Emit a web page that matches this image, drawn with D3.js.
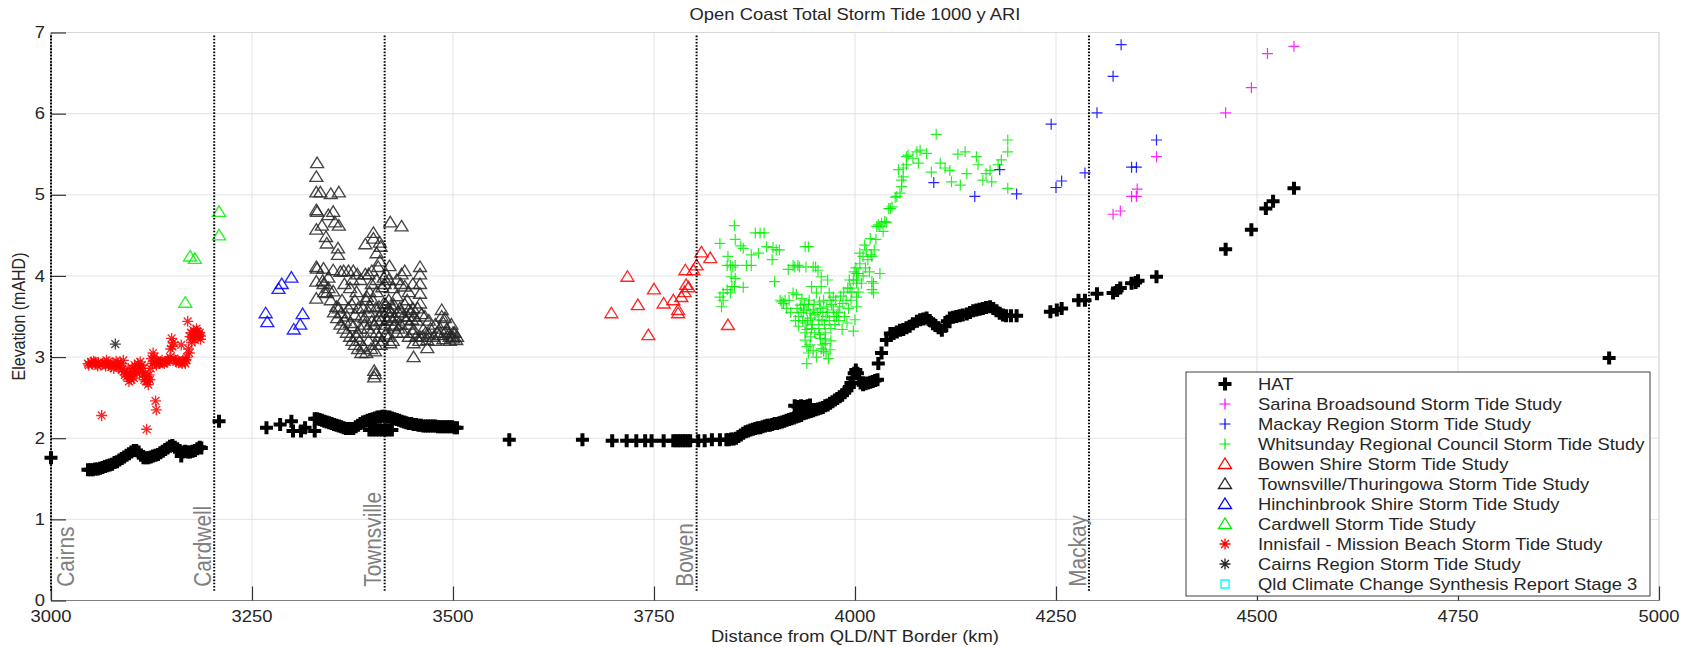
<!DOCTYPE html>
<html><head><meta charset="utf-8">
<script src="https://cdn.jsdelivr.net/npm/d3@7"></script>
<style>html,body{margin:0;padding:0;background:#fff;}svg{display:block;}</style>
</head><body>
<script>
// ---------------- DATA ----------------
const chartTitle = "Open Coast Total Storm Tide 1000 y ARI";
const xLabel = "Distance from QLD/NT Border (km)";
const yLabel = "Elevation (mAHD)";
const xTicks = [3000, 3250, 3500, 3750, 4000, 4250, 4500, 4750, 5000];
const yTicks = [0, 1, 2, 3, 4, 5, 6, 7];

const places = ["Cairns", "Cardwell", "Townsville", "Bowen", "Mackay"];
const placeKm = [3000, 3203, 3415, 3803, 4291];
const placeLabelKm = [3028, 3199, 3411, 3799, 4287];

const hat = [
[3000,1.76],
[3046,1.61],[3049,1.61],[3052,1.61],[3055,1.62],[3058,1.62],[3061,1.63],[3064,1.64],[3067,1.65],[3070,1.66],[3073,1.67],[3076,1.68],[3079,1.70],[3082,1.71],[3085,1.73],[3088,1.75],[3091,1.77],[3094,1.79],[3097,1.81],[3100,1.83],[3103,1.85],[3106,1.85],[3109,1.83],[3112,1.79],[3115,1.76],[3118,1.76],[3121,1.76],[3124,1.77],[3127,1.78],[3130,1.79],[3133,1.80],[3136,1.82],[3139,1.84],[3142,1.86],[3145,1.88],[3148,1.90],[3151,1.91],[3154,1.89],[3157,1.87],[3160,1.85],[3162,1.78],[3164,1.83],[3167,1.84],[3170,1.83],[3173,1.83],[3176,1.84],[3179,1.85],[3182,1.87],[3185,1.89],[3187,1.88],
[3209,2.21],[3268,2.13],[3285,2.17],[3299,2.21],[3301,2.09],[3311,2.09],[3316,2.13],[3328,2.09],
[3328,2.24],[3331,2.24],[3334,2.23],[3337,2.22],[3340,2.21],[3343,2.20],[3346,2.19],[3349,2.18],[3352,2.17],[3355,2.16],[3358,2.15],[3361,2.14],[3364,2.13],[3367,2.12],[3370,2.12],[3373,2.12],[3376,2.12],[3379,2.14],[3382,2.16],[3385,2.18],[3388,2.20],[3391,2.21],[3394,2.22],[3397,2.23],[3400,2.24],[3403,2.25],[3406,2.26],[3409,2.26],[3412,2.27],[3415,2.27],[3418,2.26],[3421,2.26],[3424,2.25],[3427,2.24],[3430,2.23],[3433,2.22],[3436,2.21],[3439,2.20],[3442,2.19],[3445,2.18],[3448,2.18],[3451,2.17],[3454,2.17],[3457,2.16],[3460,2.16],[3463,2.15],[3466,2.15],[3469,2.15],[3472,2.15],[3475,2.15],[3478,2.15],[3481,2.14],[3484,2.14],[3487,2.14],[3490,2.14],[3493,2.14],[3496,2.14],[3499,2.14],[3502,2.13],[3505,2.13],
[3396,2.10],[3400,2.10],[3404,2.10],[3408,2.10],[3412,2.10],[3416,2.10],[3420,2.10],[3424,2.10],
[3570,1.98],[3661,1.98],[3698,1.97],[3716,1.97],[3728,1.97],[3739,1.97],[3747,1.97],[3762,1.97],[3774,1.97],[3777,1.97],[3780,1.97],[3783,1.97],[3786,1.97],[3789,1.97],[3792,1.97],[3795,1.97],[3805,1.97],[3813,1.97],[3822,1.98],[3832,1.98],[3840,1.98],[3843,1.98],[3846,1.99],[3849,1.99],[3852,2.00],[3855,2.02],[3858,2.04],[3861,2.06],[3864,2.08],[3867,2.09],[3870,2.10],[3873,2.11],[3876,2.12],[3879,2.13],[3882,2.13],[3885,2.14],[3888,2.15],[3891,2.16],[3894,2.16],[3897,2.17],[3900,2.18],[3903,2.18],[3906,2.19],[3909,2.20],[3912,2.21],[3915,2.22],[3918,2.23],[3921,2.24],[3924,2.25],[3927,2.26],[3930,2.27],[3933,2.28],[3936,2.30],[3939,2.31],[3942,2.32],[3945,2.33],[3948,2.34],[3951,2.35],[3954,2.36],[3957,2.37],[3960,2.38],[3963,2.40],[3966,2.41],[3969,2.43],[3972,2.45],[3975,2.47],[3978,2.49],[3981,2.51],[3984,2.53],[3987,2.56],[3990,2.59],[3993,2.63],[3995,2.68],[3997,2.74],[3999,2.80],[4001,2.84],[4003,2.80],[4005,2.74],[4007,2.68],[4010,2.66],[4013,2.67],[4016,2.68],[4019,2.69],[4022,2.70],[4025,2.71],[4028,2.72],
[3925,2.40],[3929,2.39],[3933,2.40],[3937,2.39],[3941,2.40],[3944,2.41],
[4029,2.92],[4033,3.05],[4039,3.21],[4044,3.29],[4048,3.29],[4052,3.31],[4056,3.33],[4060,3.34],[4064,3.36],[4068,3.38],[4072,3.41],[4077,3.44],[4081,3.46],[4085,3.47],[4089,3.48],[4093,3.45],[4097,3.41],[4100,3.39],[4104,3.36],[4108,3.33],[4112,3.38],[4115,3.44],[4118,3.48],[4122,3.49],[4126,3.50],[4130,3.51],[4134,3.52],[4139,3.53],[4143,3.55],[4147,3.57],[4151,3.58],[4155,3.59],[4159,3.60],[4163,3.61],[4168,3.62],[4172,3.60],[4176,3.57],[4180,3.54],[4184,3.52],[4188,3.51],[4194,3.51],[4201,3.51],
[4243,3.56],[4251,3.58],[4257,3.60],[4278,3.70],[4286,3.70],[4301,3.78],[4321,3.79],[4326,3.82],[4330,3.85],[4344,3.91],[4349,3.92],[4352,3.94],[4375,3.99],[4461,4.33],[4493,4.57],[4511,4.83],[4520,4.92],[4546,5.08],[4938,2.99]
];

const sarina = [[4321,4.76],[4330,4.80],[4344,4.98],[4350,4.98],[4351,5.07],[4375,5.47],[4461,6.01],[4493,6.32],[4513,6.74],[4546,6.83]];

const mackay = [[4098,5.15],[4149,4.98],[4180,5.31],[4201,5.01],[4244,5.87],[4250,5.09],[4257,5.17],[4286,5.27],[4301,6.01],[4321,6.46],[4331,6.85],[4375,5.675],[4344,5.34],[4350,5.34]];

const whitsunday = [
[3832,4.40],[3850,4.62],[3851,4.45],[3858,4.37],[3861,4.34],[3871,4.26],[3876,4.53],[3882,4.53],[3887,4.53],[3880,4.28],[3890,4.36],[3898,4.35],[3902,4.32],[3906,4.32],[3897,4.20],[3938,4.36],[3942,4.36],
[3842,4.24],[3845,4.13],[3841,4.13],[3851,4.13],[3865,4.13],[3871,4.13],[3848,4.11],[3846,3.99],[3851,3.97],[3850,3.87],[3847,3.87],[3841,3.83],[3836,3.79],[3845,3.79],[3832,3.74],[3836,3.70],[3834,3.62],[3861,3.86],[3900,3.93],
[3925,4.11],[3917,4.08],[3929,4.13],[3923,4.13],[3931,4.11],[3939,4.11],[3948,4.11],[3951,4.11],[3954,4.07],[3958,3.99],[3966,3.95],[3958,3.87],[3968,3.79],
[3907,3.70],[3909,3.68],[3911,3.66],[3913,3.70],[3927,3.77],[3923,3.79],[3932,3.64],[3936,3.58],[3940,3.58],[3944,3.54],[3948,3.58],[3946,3.87],[3952,3.79],
[3938,3.42],[3940,3.34],[3938,3.21],[3940,3.13],[3940,2.92],[3957,3.23],[3963,3.17],[3969,3.09],[3961,3.07],[3967,2.98],[3965,3.62],[3969,3.70],[3973,3.58],[3973,3.74],[3977,3.50],[3981,3.62],[3985,3.66],[3987,3.50],[3990,3.42],[3984,3.34],[3998,3.32],[4000,3.46],[4002,3.74],[4002,3.91],[4002,4.03],[4006,4.15],[4010,4.24],[4014,4.32],[4019,4.46],[4021,4.24],[4023,3.91],[4023,3.79],[4031,4.03],[4029,4.63],[4037,4.67],[4042,4.83],[4050,4.97],[4054,5.31],
[3930,3.50],[3935,3.45],[3945,3.48],[3950,3.52],[3955,3.46],[3960,3.55],[3962,3.40],[3975,3.40],[3980,3.45],[3992,3.60],[3995,3.70],[3994,3.85],[3998,3.95],[3928,3.60],[3934,3.72],[3942,3.65],[3956,3.68],[3964,3.50],[3970,3.35],[3945,3.25],[3950,3.30],[3960,3.15],[3942,3.05],
[3915,3.60],[3918,3.70],[3920,3.55],[3926,3.45],[3930,3.38],[3933,3.55],[3937,3.65],[3941,3.45],[3943,3.70],[3947,3.40],[3949,3.65],[3953,3.55],[3955,3.35],[3957,3.60],[3959,3.45],[3961,3.70],[3963,3.30],[3966,3.55],[3968,3.45],[3971,3.65],[3974,3.50],[3976,3.70],[3979,3.55],[3982,3.75],[3986,3.80],[3989,3.70],[3991,3.85],[3993,3.95],[3996,3.80],[3999,4.05],[4001,4.10],[3944,3.15],[3948,3.08],[3952,3.00],[3958,3.10],[3964,3.05],[3938,3.30],[3946,3.35],[3956,3.28],[3963,3.22],[3970,3.20],
[4004,4.03],[4006,4.28],[4012,4.38],[4020,4.26],[4024,4.32],[4027,4.61],[4033,4.65],[4039,4.66],[4046,4.85],[4056,5.02],[4058,5.10],[4058,5.18],[4060,5.33],[4064,5.37],[4066,5.49],[4072,5.45],[4077,5.53],[4021,3.93],[4021,3.83],[4002,3.95],[4008,3.91],[4002,3.62],
[4004,3.80],[4010,4.00],[4013,4.10],[4016,4.20],[4018,4.05],[4026,4.45],[4035,4.55],
[4031,4.61],[4044,4.83],[4052,4.98],[4060,5.22],[4064,5.47],[4081,5.55],[4089,5.51],[4079,5.39],[4095,5.28],[4101,5.745],[4106,5.39],[4112,5.33],[4118,5.30],[4120,5.16],[4131,5.12],[4128,5.50],[4137,5.53],[4139,5.26],[4151,5.47],[4153,5.37],[4159,5.18],[4163,5.26],[4170,5.16],[4168,5.30],[4178,5.37],[4182,5.43],[4190,5.675],[4190,5.53],[4190,5.08]
];

const bowen = [[3697,3.54],[3717,3.99],[3730,3.64],[3743,3.27],[3750,3.835],[3762,3.66],[3774,3.70],[3780,3.54],[3780,3.58],[3784,3.74],[3788,3.80],[3790,3.89],[3793,3.86],[3789,4.07],[3799,4.07],[3803,4.13],[3809,4.29],[3820,4.22],[3842,3.395]];

const townsville = [
[3331,5.39],[3330,5.22],[3330,5.03],[3335,5.03],[3348,5.01],[3358,5.03],[3330,4.81],[3331,4.79],[3351,4.79],[3345,4.75],[3337,4.62],[3353,4.66],[3358,4.62],[3330,4.57],[3342,4.48],[3343,4.40],[3357,4.34],[3357,4.26],
[3330,4.11],[3331,4.09],[3339,4.09],[3351,4.07],[3339,3.90],[3338,3.94],[3330,3.93],[3343,3.79],[3351,3.81],[3372,3.85],[3330,3.72],[3364,4.06],[3370,4.06],[3376,4.06],[3381,4.02],[3391,4.02],[3399,4.06],[3407,4.11],[3417,4.02],[3421,4.12],[3436,4.02],[3440,4.06],[3459,4.11],[3459,4.02],[3459,3.90],[3459,3.78],[3459,3.66],[3461,3.53],
[3401,4.53],[3401,4.46],[3391,4.39],[3409,4.41],[3405,4.28],[3409,4.18],[3422,4.66],[3436,4.61],
[3361,3.54],[3368,3.50],[3376,3.38],[3381,3.30],[3388,3.13],[3403,3.07],[3393,3.74],[3397,3.62],[3399,3.44],[3405,3.30],[3414,3.66],[3418,3.56],[3422,3.50],[3426,3.38],[3430,3.30],[3422,3.17],[3412,3.86],[3414,3.98],[3399,3.90],
[3402,2.83],[3402,2.75],[3403,2.79],
[3440,3.87],[3443,3.70],[3445,3.58],[3449,3.46],[3451,3.34],[3451,3.17],[3451,3.00],[3463,3.34],[3468,3.21],[3468,3.11],[3476,3.25],[3486,3.58],[3486,3.50],[3488,3.42],[3492,3.34],[3500,3.23],[3504,3.21],[3483,3.27],[3459,3.25],
[3358,3.60],[3365,3.45],[3372,3.42],[3378,3.52],[3385,3.35],[3390,3.48],[3395,3.55],[3408,3.62],[3410,3.45],[3415,3.40],[3420,3.70],[3425,3.60],[3428,3.48],[3432,3.55],[3412,3.20],[3416,3.28],[3395,3.20],[3435,3.40],[3438,3.30],[3445,3.25],[3455,3.45],[3470,3.28],[3480,3.30],[3495,3.28],[3502,3.30],[3498,3.40],[3490,3.48],[3345,3.98],[3348,3.70],[3355,3.62],[3362,3.70],[3380,3.80],[3385,3.95],[3405,3.80],[3425,3.85],[3430,3.95],[3445,3.80],[3450,3.60],[3410,4.36],[3405,3.95],[3395,4.02],[3360,4.05],
[3352,3.55],[3356,3.48],[3360,3.40],[3364,3.35],[3368,3.30],[3372,3.25],[3375,3.20],[3378,3.15],[3382,3.10],[3386,3.05],[3392,3.05],[3398,3.10],[3404,3.15],[3408,3.25],[3414,3.35],[3418,3.45],[3422,3.55],[3426,3.65],[3430,3.75],[3434,3.60],[3438,3.50],[3442,3.45],[3446,3.40],[3450,3.30],[3454,3.25],[3458,3.20],[3462,3.25],[3466,3.30],[3472,3.35],[3478,3.40],[3484,3.35],[3490,3.30],[3496,3.20],[3500,3.25],[3505,3.25],[3388,3.60],[3392,3.70],[3396,3.80],[3400,3.70],[3404,3.60],[3408,3.50],[3412,3.55],[3416,3.65],[3420,3.60],[3424,3.45],[3428,3.40],[3432,3.35],[3436,3.55],[3440,3.65],[3444,3.50],[3448,3.55],[3452,3.50],[3456,3.60],[3370,3.60],[3374,3.65],[3378,3.70],[3382,3.60],[3386,3.50],[3390,3.40],[3394,3.35],[3398,3.30],[3402,3.40],[3406,3.45],[3380,3.25],[3384,3.20],[3410,3.15],[3420,3.25],[3425,3.20],[3340,3.80],[3345,3.85],[3365,3.90],[3375,3.95],[3415,3.90],[3420,3.95],[3435,3.90],[3450,3.90],[3465,3.50],[3470,3.45],[3478,3.20],[3488,3.22],[3496,3.25],[3500,3.30]
];

const hinchinbrook = [[3299,3.98],[3287,3.90],[3283,3.84],[3267,3.54],[3269,3.43],[3313,3.53],[3310,3.40],[3302,3.34]];

const cardwell = [[3209,4.79],[3209,4.50],[3173,4.24],[3179,4.21],[3167,3.67]];

const innisfail = [
[3046,2.92],[3050,2.94],[3053,2.95],[3056,2.91],[3059,2.93],[3062,2.90],[3066,2.93],[3069,2.96],[3072,2.90],[3075,2.88],[3077,2.92],[3080,2.90],[3083,2.93],[3086,2.89],[3088,2.84],[3090,2.96],[3092,2.78],[3094,2.76],[3096,2.86],[3098,2.74],[3100,2.72],[3102,2.80],[3104,2.90],[3107,2.80],[3109,2.88],[3111,2.94],[3113,2.90],[3115,2.86],[3117,2.80],[3119,2.76],[3121,2.66],[3123,2.72],[3125,2.98],[3127,3.05],[3129,2.94],[3131,2.90],[3133,2.92],[3136,2.94],[3139,2.93],[3142,2.95],[3145,2.96],[3148,3.00],[3150,3.23],[3151,3.13],[3153,2.98],[3156,2.94],[3159,2.93],[3162,3.15],[3163,2.92],[3166,2.94],[3168,2.97],[3170,3.44],[3171,3.10],[3173,3.25],[3175,3.18],[3177,3.33],[3179,3.21],[3181,3.35],[3183,3.25],[3185,3.30],[3186,3.22],
[3047,2.90],[3051,2.91],[3055,2.94],[3058,2.89],[3064,2.92],[3068,2.89],[3071,2.94],[3074,2.91],[3078,2.86],[3081,2.95],[3084,2.87],[3087,2.92],[3091,2.82],[3095,2.80],[3097,2.70],[3099,2.78],[3101,2.86],[3103,2.74],[3105,2.84],[3108,2.92],[3110,2.82],[3112,2.86],[3114,2.78],[3116,2.72],[3118,2.70],[3120,2.70],[3122,2.78],[3124,2.86],[3126,2.92],[3128,3.00],[3132,2.96],[3135,2.92],[3138,2.96],[3141,2.92],[3144,2.94],[3147,2.96],[3149,3.10],[3152,3.18],[3155,2.96],[3158,2.96],[3161,2.94],[3164,2.96],[3167,2.92],[3169,3.00],[3172,3.05],[3174,3.30],[3176,3.24],[3178,3.28],[3180,3.30],[3182,3.32],[3184,3.28],[3186,3.26],
[3063,2.28],[3119,2.11],[3130,2.46],[3131,2.35]
];

const cairnsRegion = [[3080,3.16]];
const qldSynthesis = [];

const seriesNames = ["HAT","Sarina Broadsound Storm Tide Study","Mackay Region Storm Tide Study","Whitsunday Regional Council Storm Tide Study","Bowen Shire Storm Tide Study","Townsville/Thuringowa Storm Tide Study","Hinchinbrook Shire Storm Tide Study","Cardwell Storm Tide Study","Innisfail - Mission Beach Storm Tide Study","Cairns Region Storm Tide Study","Qld Climate Change Synthesis Report Stage 3"];
const seriesData = [hat, sarina, mackay, whitsunday, bowen, townsville, hinchinbrook, cardwell, innisfail, cairnsRegion, qldSynthesis];
const seriesColors = ["#000000","#ff00ff","#0000ff","#00ee00","#ff0000","#262626","#0000ff","#00ee00","#ff0000","#262626","#00ffff"];
const seriesMarkers = ["boldplus","plus","plus","plus","tri","tri","tri","tri","star","star","square"];

// ---------------- LAYOUT ----------------
const W = 1686, H = 647;
const FONT = "'Liberation Sans', Arial, Helvetica, sans-serif";
const SX = 1.15; // horizontal text stretch seen in the reference
const svg = d3.select("body").append("svg").attr("width", W).attr("height", H)
  .style("background", "#fff");

const x = d3.scaleLinear().domain([3000, 5000]).range([51, 1659]);
const y = d3.scaleLinear().domain([0, 7]).range([600.5, 32.5]);
const [x0, x1] = x.range();
const [yb, yt] = y.range();

function txt(g, px, py, s, o) {
  o = o || {};
  const t = g.append("text")
    .attr("transform", `translate(${px},${py}) scale(${SX},1)` + (o.rot ? ` rotate(${o.rot})` : ""))
    .attr("font-family", FONT).attr("font-size", o.size || 16)
    .attr("fill", o.color || "#262626")
    .attr("text-anchor", o.anchor || "start")
    .text(s);
  if (o.dy) t.attr("dy", o.dy);
  return t;
}

// grid
const grid = svg.append("g");
grid.selectAll("line.gx").data(xTicks).join("line")
  .attr("x1", d => x(d)).attr("x2", d => x(d)).attr("y1", yt).attr("y2", yb)
  .attr("stroke", "#e3e3e3").attr("stroke-width", 1);
grid.selectAll("line.gy").data(yTicks).join("line")
  .attr("x1", x0).attr("x2", x1).attr("y1", d => y(d)).attr("y2", d => y(d))
  .attr("stroke", "#e3e3e3").attr("stroke-width", 1);
// box
svg.append("line").attr("x1", x0).attr("x2", x1).attr("y1", yt).attr("y2", yt).attr("stroke", "#d8d8d8");
svg.append("line").attr("x1", x1).attr("x2", x1).attr("y1", yt).attr("y2", yb).attr("stroke", "#d8d8d8");
svg.append("line").attr("x1", x0).attr("x2", x1).attr("y1", yb).attr("y2", yb).attr("stroke", "#808080").attr("stroke-width", 1.2);
svg.append("line").attr("x1", x0).attr("x2", x0).attr("y1", yt).attr("y2", yb).attr("stroke", "#808080").attr("stroke-width", 1.2);

// axes via d3 axis (inside ticks)
const xAxis = svg.append("g").attr("transform", `translate(0,${yb})`)
  .call(d3.axisBottom(x).tickValues(xTicks).tickSize(-14).tickFormat(""));
xAxis.select(".domain").remove();
xAxis.selectAll(".tick line").attr("stroke", "#333").attr("stroke-width", 1.2);
const yAxis = svg.append("g").attr("transform", `translate(${x0},0)`)
  .call(d3.axisLeft(y).tickValues(yTicks).tickSize(-15).tickFormat(""));
yAxis.select(".domain").remove();
yAxis.selectAll(".tick line").attr("stroke", "#333").attr("stroke-width", 1.2);

// tick labels
xTicks.forEach(v => txt(svg, x(v), 622, String(v), {anchor: "middle"}));
yTicks.forEach(v => txt(svg, 45, y(v), String(v), {anchor: "end", dy: "0.35em"}));

// title & axis labels
txt(svg, (x0 + x1) / 2, 20, chartTitle, {anchor: "middle"});
txt(svg, (x0 + x1) / 2, 642, xLabel, {anchor: "middle"});
txt(svg, 25, (yt + yb) / 2, yLabel, {anchor: "middle", rot: -90});

// markers
function markerPath(type) {
  switch (type) {
    case "boldplus": return "M-6.5,0H6.5M0,-6.5V6.5";
    case "plus": return "M-5.5,0H5.5M0,-5.5V5.5";
    case "tri": return "M0,-6L6.5,4.5L-6.5,4.5Z";
    case "star": { const r = 5.5, d = 3.9; return `M-${r},0H${r}M0,-${r}V${r}M-${d},-${d}L${d},${d}M-${d},${d}L${d},-${d}`; }
    case "square": return "M-4,-4H4V4H-4Z";
  }
}
function markerWidth(type) { return type === "boldplus" ? 4 : (type === "plus" ? 1.2 : 1.35); }

const plot = svg.append("g");
// draw order: studies first, then HAT
const drawOrder = [5, 4, 6, 7, 8, 9, 3, 2, 1, 10, 0];
drawOrder.forEach(i => {
  plot.append("g").selectAll("path").data(seriesData[i]).join("path")
    .attr("transform", d => `translate(${x(d[0])},${y(d[1])})`)
    .attr("d", markerPath(seriesMarkers[i]))
    .attr("fill", "none")
    .attr("stroke", seriesColors[i])
    .attr("stroke-width", markerWidth(seriesMarkers[i]))
    .attr("stroke-opacity", seriesMarkers[i] === "boldplus" ? 1 : 0.85);
});

// place lines & labels
const pl = svg.append("g");
pl.selectAll("line").data(placeKm).join("line")
  .attr("x1", d => x(d)).attr("x2", d => x(d))
  .attr("y1", y(0.12)).attr("y2", y(6.97))
  .attr("stroke", "#000").attr("stroke-width", 2).attr("stroke-dasharray", "1.6,1.6");
places.forEach((p, i) => txt(pl, x(placeLabelKm[i]), y(0.17), p, {rot: -90, size: 20.8, color: "#808080"}));

// legend
const lg = svg.append("g");
lg.append("rect").attr("x", 1186).attr("y", 372).attr("width", 464).attr("height", 224)
  .attr("fill", "#fff").attr("stroke", "#404040").attr("stroke-width", 1);
seriesNames.forEach((n, i) => {
  const ry = 384 + 20 * i;
  lg.append("path").attr("transform", `translate(1225,${ry})`)
    .attr("d", markerPath(seriesMarkers[i])).attr("fill", "none")
    .attr("stroke", seriesColors[i]).attr("stroke-width", markerWidth(seriesMarkers[i]));
  txt(lg, 1258, ry, n, {dy: "0.35em"});
});
</script>
</body></html>
